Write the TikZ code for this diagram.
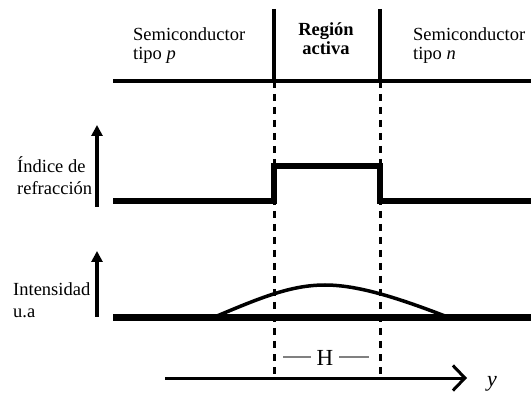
\documentclass[tikz,border=0pt]{standalone}
\usepackage{fontspec}
\setmainfont{Liberation Serif}
\usetikzlibrary{arrows.meta}
\begin{document}
\begin{tikzpicture}[x=1pt,y=-1pt,
  lbl/.style={inner sep=0pt,font=\fontsize{18.5}{20}\selectfont},
  thinline/.style={line width=3.5pt},
  dashline/.style={line width=3pt,dash pattern=on 7pt off 6pt},
  profile/.style={line width=6.5pt,line join=miter},
  upaxis/.style={line width=3.5pt,-{Triangle[length=11pt,width=11pt]}},
  yaxis/.style={line width=3pt,-{Straight Barb[length=12pt,width=25pt,line width=3pt]}},
  hmark/.style={line width=1.2pt,gray}]
\useasboundingbox[fill=white] (0,0) rectangle (531,393);
% coordinates
\coordinate (atop) at (274,9);
\coordinate (amid) at (274,81);
\coordinate (abot) at (274,378);
\coordinate (btop) at (380,9);
\coordinate (bmid) at (380,81);
\coordinate (bbot) at (380,378);
\coordinate (hl) at (113,81);
\coordinate (hr) at (531,81);
% header lines
\draw[thinline] (atop) -- (amid);
\draw[thinline] (btop) -- (bmid);
\draw[thinline] (hl) -- (hr);
\draw[dashline] (amid) -- (abot);
\draw[dashline] (bmid) -- (bbot);
% header text
\node[lbl,anchor=base west] (p1) at (133,41) {Semiconductor};
\node[lbl,anchor=base west] (p2) at (133,60) {tipo \textit{p}};
\node[lbl,anchor=base] (r1) at (326,36) {\textbf{Región}};
\node[lbl,anchor=base] (r2) at (326,55) {\textbf{activa}};
\node[lbl,anchor=base west] (n1) at (413,41) {Semiconductor};
\node[lbl,anchor=base west] (n2) at (413,60) {tipo \textit{n}};
% refractive index profile
\coordinate (i0) at (113,201);
\coordinate (i1) at (274,201);
\coordinate (i2) at (274,166);
\coordinate (i3) at (380,166);
\coordinate (i4) at (380,201);
\coordinate (i5) at (531,201);
\draw[profile] (i0) -- (i1) -- (i2) -- (i3) -- (i4) -- (i5);
\coordinate (ia0) at (97,207);
\coordinate (ia1) at (97,125);
\draw[upaxis] (ia0) -- (ia1);
\node[lbl,anchor=base west] (ind1) at (17,173) {Índice de};
\node[lbl,anchor=base west] (ind2) at (17,195) {refracción};
% intensity
\coordinate (b0) at (113,318);
\coordinate (b1) at (531,318);
\draw[line width=7pt] (b0) -- (b1);
\coordinate (c0) at (217,316);
\coordinate (c1) at (325,285);
\coordinate (c2) at (445,316);
\draw[line width=3.5pt] (c0) .. controls (262,297) and (292,285) .. (c1)
  .. controls (358,285) and (398,298) .. (c2);
\coordinate (ta0) at (97,317);
\coordinate (ta1) at (97,251);
\draw[upaxis] (ta0) -- (ta1);
\node[lbl,anchor=base west] (int1) at (13,296) {Intensidad};
\node[lbl,anchor=base west] (int2) at (13,317) {u.a};
% H
\node[lbl,font=\fontsize{23}{23}\selectfont] (H) at (325,358) {H};
\coordinate (h0) at (283,357);
\coordinate (h0e) at (311,357);
\coordinate (h1) at (339,357);
\coordinate (h2) at (369,357);
\draw[hmark] (h0) -- (h0e);
\draw[hmark] (h1) -- (h2);
% y axis
\coordinate (y0) at (165,378);
\coordinate (y1) at (467,378);
\draw[yaxis] (y0) -- (y1);
\node[lbl,font=\fontsize{22}{22}\selectfont\itshape] (ylab) at (492,384) {y};
\end{tikzpicture}
\end{document}
